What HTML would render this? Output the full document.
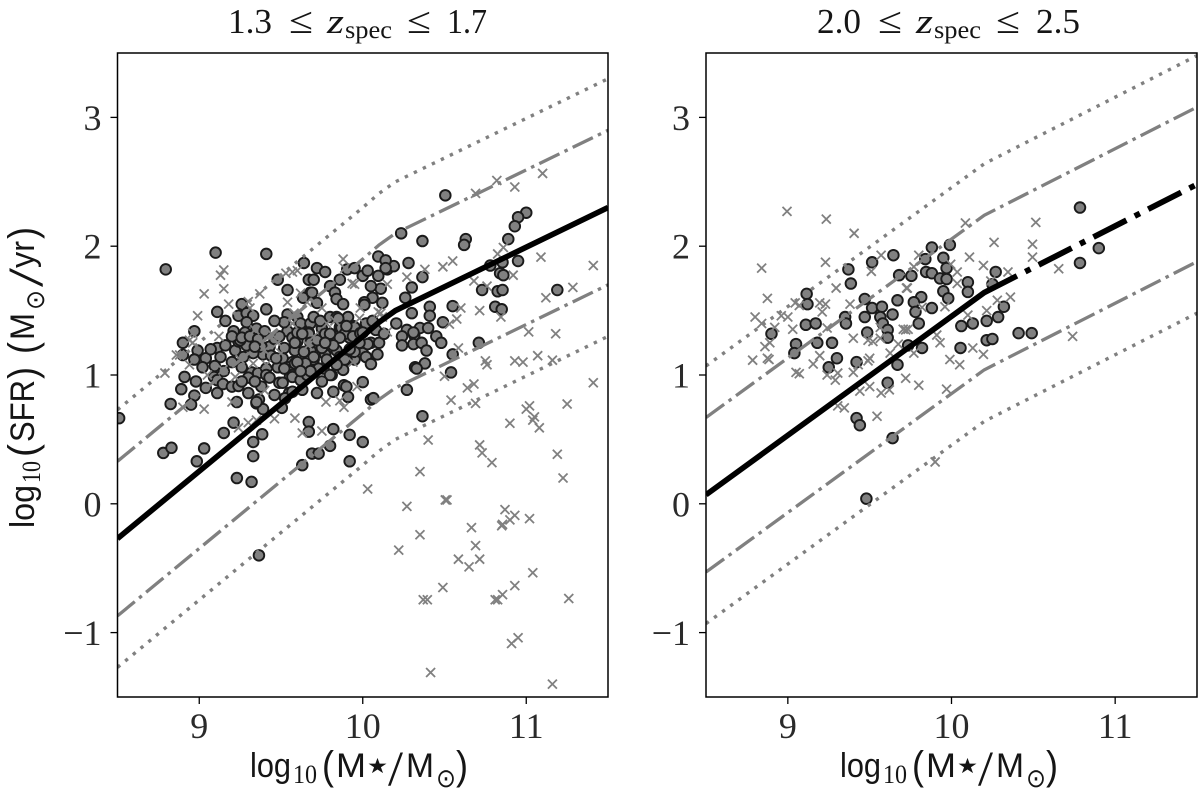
<!DOCTYPE html>
<html lang="en">
<head>
<meta charset="utf-8">
<title>SFR versus stellar mass</title>
<style>
html,body{margin:0;padding:0;background:#fff;}
svg{display:block;}
text{fill:#151515;}
.serif{font-family:"Liberation Serif","DejaVu Serif",serif;}
.sans{font-family:"Liberation Sans","DejaVu Sans",sans-serif;}
.sym{font-family:"DejaVu Sans","Liberation Sans",sans-serif;}
</style>
</head>
<body>
<svg id="chart" xmlns="http://www.w3.org/2000/svg" width="1200" height="797" viewBox="0 0 1200 797">
<defs>
<clipPath id="clip-left"><rect x="117.5" y="53" width="490.5" height="644"/></clipPath>
<clipPath id="clip-right"><rect x="706" y="53" width="491" height="644"/></clipPath>
</defs>
<g id="panel-left"></g>
<g id="panel-right"></g>

<g>
<text class="serif" x="228" y="33" font-size="35" textLength="44" lengthAdjust="spacingAndGlyphs">1.3</text>
<text class="serif" x="289" y="33" font-size="37" textLength="24" lengthAdjust="spacingAndGlyphs">≤</text>
<text class="serif" font-style="italic" x="327" y="33" font-size="35" textLength="17" lengthAdjust="spacingAndGlyphs">z</text>
<text class="serif" x="345" y="38" font-size="25" textLength="47" lengthAdjust="spacingAndGlyphs">spec</text>
<text class="serif" x="407" y="33" font-size="37" textLength="24" lengthAdjust="spacingAndGlyphs">≤</text>
<text class="serif" x="447" y="33" font-size="35" textLength="40" lengthAdjust="spacingAndGlyphs">1.7</text>
</g>
<g>
<text class="serif" x="817" y="33" font-size="35" textLength="44" lengthAdjust="spacingAndGlyphs">2.0</text>
<text class="serif" x="878" y="33" font-size="37" textLength="24" lengthAdjust="spacingAndGlyphs">≤</text>
<text class="serif" font-style="italic" x="916" y="33" font-size="35" textLength="17" lengthAdjust="spacingAndGlyphs">z</text>
<text class="serif" x="934" y="38" font-size="25" textLength="47" lengthAdjust="spacingAndGlyphs">spec</text>
<text class="serif" x="996" y="33" font-size="37" textLength="24" lengthAdjust="spacingAndGlyphs">≤</text>
<text class="serif" x="1036" y="33" font-size="35" textLength="44" lengthAdjust="spacingAndGlyphs">2.5</text>
</g>

<g>
<text class="sans" x="250" y="777" font-size="34" textLength="41" lengthAdjust="spacingAndGlyphs">log</text>
<text class="serif" x="293" y="783" font-size="26" textLength="24" lengthAdjust="spacingAndGlyphs">10</text>
<text class="sans" x="322" y="779" font-size="40" textLength="12" lengthAdjust="spacingAndGlyphs">(</text>
<text class="sans" x="336" y="777" font-size="34" textLength="30" lengthAdjust="spacingAndGlyphs">M</text>
<text class="sym" x="367" y="773" font-size="21" textLength="21" lengthAdjust="spacingAndGlyphs">★</text>
<text class="serif" x="388" y="785" font-size="50" textLength="15" lengthAdjust="spacingAndGlyphs">/</text>
<text class="sans" x="406" y="777" font-size="34" textLength="28" lengthAdjust="spacingAndGlyphs">M</text>
<text class="sym" x="436" y="787" font-size="26" textLength="20" lengthAdjust="spacingAndGlyphs">⊙</text>
<text class="sans" x="456" y="779" font-size="40" textLength="12" lengthAdjust="spacingAndGlyphs">)</text>
</g>
<g>
<text class="sans" x="840" y="777" font-size="34" textLength="41" lengthAdjust="spacingAndGlyphs">log</text>
<text class="serif" x="883" y="783" font-size="26" textLength="24" lengthAdjust="spacingAndGlyphs">10</text>
<text class="sans" x="912" y="779" font-size="40" textLength="12" lengthAdjust="spacingAndGlyphs">(</text>
<text class="sans" x="926" y="777" font-size="34" textLength="30" lengthAdjust="spacingAndGlyphs">M</text>
<text class="sym" x="957" y="773" font-size="21" textLength="21" lengthAdjust="spacingAndGlyphs">★</text>
<text class="serif" x="978" y="785" font-size="50" textLength="15" lengthAdjust="spacingAndGlyphs">/</text>
<text class="sans" x="996" y="777" font-size="34" textLength="28" lengthAdjust="spacingAndGlyphs">M</text>
<text class="sym" x="1026" y="787" font-size="26" textLength="20" lengthAdjust="spacingAndGlyphs">⊙</text>
<text class="sans" x="1046" y="779" font-size="40" textLength="12" lengthAdjust="spacingAndGlyphs">)</text>
</g>
<g transform="translate(34,528) rotate(-90)">
<text class="sans" x="0" y="0" font-size="34" textLength="43" lengthAdjust="spacingAndGlyphs">log</text>
<text class="serif" x="45" y="6" font-size="26" textLength="22" lengthAdjust="spacingAndGlyphs">10</text>
<text class="sans" x="71" y="2" font-size="40" textLength="13" lengthAdjust="spacingAndGlyphs">(</text>
<text class="sans" x="86" y="0" font-size="34" textLength="62" lengthAdjust="spacingAndGlyphs">SFR</text>
<text class="sans" x="149" y="2" font-size="40" textLength="12" lengthAdjust="spacingAndGlyphs">)</text>
<text class="sans" x="174" y="2" font-size="40" textLength="12" lengthAdjust="spacingAndGlyphs">(</text>
<text class="sans" x="188" y="0" font-size="34" textLength="27" lengthAdjust="spacingAndGlyphs">M</text>
<text class="sym" x="218" y="10" font-size="26" textLength="20" lengthAdjust="spacingAndGlyphs">⊙</text>
<text class="serif" x="241" y="8" font-size="50" textLength="19" lengthAdjust="spacingAndGlyphs">/</text>
<text class="sans" x="260" y="0" font-size="34" textLength="27" lengthAdjust="spacingAndGlyphs">yr</text>
<text class="sans" x="289" y="2" font-size="40" textLength="12" lengthAdjust="spacingAndGlyphs">)</text>
</g>
</svg>

<script>
// Axis ranges and ticks
const xDomain = [8.5, 11.5];
const yDomain = [-1.5, 3.5];
const xTicks = [9, 10, 11];
const yTicks = [-1, 0, 1, 2, 3];

// Main-sequence relations: stellar mass knots and SFR at each knot
const leftMainMass = [8.5, 10.0, 10.1, 10.2, 11.5];
const leftMainSfr = [-0.27, 1.30, 1.41, 1.50, 2.30];
const rightMainMass = [8.5, 10.2, 11.5];
const rightMainSfr = [0.07, 1.64, 2.48];
const rightSolidEndMass = 10.4;
const scatterOffsets = [0.6, -0.6];
const outlierOffsets = [1.0, -1.0];

// Spectroscopic galaxies [log mass, log SFR]
const leftCircles = [
[8.51,0.665],[8.795,1.82],[9.10,1.95],[9.41,1.94],[9.64,1.87],[9.48,1.74],[9.72,1.83],[9.77,1.80],[9.67,1.74],[9.70,1.74],
[9.86,1.74],[9.905,1.82],[9.95,1.83],[10.0,1.77],[10.03,1.81],[9.54,1.66],[9.80,1.69],[9.83,1.64],[9.84,1.59],[9.88,1.55],
[9.68,1.64],[9.635,1.60],[9.72,1.56],[9.26,1.55],[9.41,1.51],[9.11,1.49],[9.16,1.42],[9.24,1.46],[9.29,1.48],[9.33,1.46],
[9.29,1.41],[9.54,1.47],[8.97,1.34],[8.90,1.25],[8.99,1.19],[9.11,1.21],[9.16,1.23],[9.22,1.19],[9.21,1.34],[9.28,1.33],
[9.35,1.36],[9.40,1.34],[9.24,1.26],[9.29,1.23],[9.43,1.22],[9.39,1.16],[9.60,1.45],[9.62,1.40],[9.68,1.40],[9.75,1.36],
[9.80,1.45],[9.84,1.45],[9.91,1.45],[9.86,1.37],[9.94,1.38],[10.02,1.40],[9.67,1.33],[9.60,1.26],[9.54,1.34],[9.57,1.29],
[9.77,1.32],[9.92,1.29],[9.80,1.27],[9.68,1.19],[9.75,1.22],[9.77,1.16],[9.84,1.19],[9.95,1.14],[10.02,1.14],[10.05,1.25],
[8.90,1.155],[8.97,1.12],[9.04,1.13],[9.02,1.06],[9.095,1.07],[9.20,1.10],[8.91,0.985],[8.98,0.95],[9.04,0.90],[8.89,0.89],
[9.09,0.985],[9.11,0.96],[9.145,0.93],[9.20,0.91],[9.24,0.915],[9.11,0.86],[9.30,0.86],[9.26,1.06],[9.32,1.02],[9.36,1.015],
[9.30,0.98],[9.41,1.05],[9.41,1.00],[9.48,1.06],[9.555,0.99],[9.38,0.91],[9.49,0.94],[9.46,0.845],[9.55,0.86],[9.23,0.79],
[9.35,0.78],[8.97,0.84],[8.95,0.77],[8.825,0.775],[9.365,0.81],[9.33,1.17],[9.38,1.22],[9.25,1.27],[9.51,1.13],[9.57,1.10],
[9.54,1.06],[9.60,1.27],[9.52,1.21],[9.585,1.19],[9.57,1.00],[8.78,0.395],[8.83,0.435],[9.03,0.43],[8.985,0.33],[9.21,0.63],
[9.15,0.55],[9.385,0.54],[9.33,0.48],[9.33,0.37],[9.23,0.20],[9.32,0.17],[9.67,0.635],[9.67,0.56],[9.82,0.58],[9.92,0.535],
[10.0,0.48],[9.80,0.45],[9.69,0.39],[9.73,0.39],[9.63,0.30],[9.92,0.33],[9.505,0.745],[9.39,0.735],[9.35,0.79],[9.885,0.92],
[9.90,0.91],[9.82,0.87],[9.91,0.83],[9.72,0.86],[10.0,0.945],[10.05,0.81],[9.525,0.82],[9.57,0.87],[9.63,0.885],[9.65,1.015],
[9.57,0.985],[9.62,0.96],[9.70,1.12],[9.76,1.05],[9.81,1.00],[9.88,1.04],[9.95,1.12],[9.90,1.12],[9.86,1.14],[10.0,1.17],
[10.095,1.77],[10.15,1.82],[10.19,1.845],[10.28,1.87],[10.11,1.67],[10.30,1.68],[10.26,1.60],[10.06,1.60],[10.01,1.565],[10.12,1.56],
[10.01,1.545],[9.69,1.64],[9.85,1.44],[9.95,1.37],[9.87,1.365],[9.89,1.32],[9.94,1.30],[9.985,1.325],[9.86,1.29],[9.80,1.32],
[9.60,1.33],[9.67,1.32],[9.585,1.25],[9.68,1.25],[9.75,1.21],[9.82,1.23],[10.03,1.24],[10.10,1.25],[10.09,1.16],[10.02,1.14],
[10.05,1.085],[9.89,1.12],[9.95,1.18],[9.80,1.00],[9.70,1.14],[9.65,1.09],[9.585,1.09],[9.66,1.00],[10.32,1.06],[10.27,1.35],
[10.24,1.30],[10.315,1.31],[10.24,1.23],[10.31,1.24],[10.205,1.40],[10.30,1.48],[10.505,2.395],[10.235,2.10],[10.365,2.04],[10.63,2.055],
[10.62,2.01],[11.0,2.26],[10.95,2.225],[10.93,2.155],[10.89,2.055],[10.095,1.92],[10.14,1.89],[10.14,1.83],[10.365,1.76],[10.05,1.69],
[10.41,1.53],[10.41,1.46],[10.55,1.535],[10.49,1.41],[10.35,1.365],[10.40,1.365],[10.31,1.33],[10.45,1.30],[10.48,1.25],[10.36,1.25],
[10.39,1.19],[10.55,1.16],[10.38,1.09],[10.33,1.05],[10.71,1.25],[10.54,1.02],[10.27,0.885],[10.065,0.82],[10.365,0.68],[10.73,1.66],
[10.81,1.53],[10.85,1.51],[10.825,1.65],[10.855,1.66],[11.19,1.66],[10.84,1.79],[10.86,1.775],[10.95,1.885],[10.855,1.875],[10.78,1.85],
[9.365,-0.40],
[9.20,1.30],[9.26,1.29],[9.31,1.30],[9.36,1.28],[9.46,1.28],[9.44,1.15],[9.49,1.30],[9.52,1.41],[9.46,1.42],[9.34,1.22],
[9.27,1.14],[9.13,1.14],[9.07,1.20],[9.15,1.03],[9.26,0.95],[9.34,0.95],[9.43,0.98],[9.52,1.05],[9.60,1.10],[9.64,1.18],
[9.72,1.27],[9.78,1.12],[9.84,1.08],[9.73,1.05],[9.68,1.03],[9.75,0.95],[9.92,1.20],[9.98,1.25],[10.08,1.35],[10.13,1.32],
[9.70,1.45],[9.74,1.42],[9.90,1.38],[9.77,1.25],[9.63,1.32],[9.51,0.94],[9.62,1.03],[9.47,1.13],[10.06,1.42],[10.0,1.33]
];

// Photometric galaxies [log mass, log SFR]
const leftCrosses = [
[10.40,0.495],[10.715,0.457],[10.73,0.395],[10.79,0.32],[10.35,0.25],[10.03,0.115],[10.27,-0.02],[10.505,0.03],[10.515,0.03],[11.19,0.385],
[11.225,0.20],[11.08,0.59],[10.90,0.625],[11.04,0.65],[10.87,-0.045],[10.93,-0.09],[10.90,-0.125],[10.855,-0.16],[10.85,-0.17],[11.02,-0.115],
[10.665,-0.185],[10.35,-0.24],[10.22,-0.36],[10.69,-0.325],[10.585,-0.43],[10.715,-0.43],[10.65,-0.49],[11.04,-0.535],[10.93,-0.635],[10.49,-0.65],
[10.855,-0.705],[10.825,-0.745],[10.81,-0.745],[10.37,-0.745],[10.395,-0.745],[11.26,-0.735],[10.95,-1.04],[10.91,-1.085],[10.415,-1.31],[11.16,-1.40],
[11.10,2.565],[10.82,2.51],[10.93,2.46],[10.69,2.41],[10.86,1.99],[10.825,1.94],[11.09,1.915],[11.41,1.85],[10.55,1.885],[10.49,1.84],
[10.38,1.82],[10.27,1.76],[10.15,1.705],[10.68,1.73],[10.76,1.69],[10.92,1.775],[11.285,1.68],[11.12,1.60],[10.60,1.52],[10.715,1.50],
[10.575,1.435],[10.53,1.395],[10.845,1.45],[11.015,1.335],[11.18,1.32],[10.585,1.21],[10.75,1.11],[10.76,1.08],[10.93,1.11],[10.98,1.10],
[11.07,1.15],[11.16,1.115],[10.50,0.99],[10.64,0.90],[10.68,0.93],[11.41,0.94],[10.54,0.805],[10.69,0.78],[11.25,0.775],[11.02,0.76],
[11.0,0.735],[11.05,0.675],[10.11,1.48],[9.15,1.815],[9.13,1.775],[9.15,1.67],[9.03,1.63],[9.18,1.55],[8.99,1.46],[9.37,1.63],
[9.53,1.79],[9.60,1.81],[9.88,1.90],[9.95,1.705],[9.62,1.635],[9.54,1.565],[9.75,1.52],[9.30,1.57],[8.96,1.325],[8.96,1.25],
[8.88,1.155],[8.79,1.015],[9.03,0.735],[9.20,0.79],[9.585,0.665],[9.63,0.55],[9.75,0.565],[9.46,0.66],[9.30,0.63],[9.35,0.65],
[9.24,0.59],[9.775,0.79],[9.86,0.80],[9.885,0.75],[9.965,0.91],[8.86,1.155],[8.94,1.27],[8.94,1.08],[9.145,1.04],[9.22,0.985],
[9.34,1.35],[9.45,1.31],[9.40,1.19],[9.48,1.25],[9.33,1.09],[9.41,1.08],[8.90,0.75],[9.57,1.40],[9.31,1.52],[9.935,1.71],
[9.66,1.565],[9.985,1.52],[10.095,1.49],[10.12,1.45],[10.15,1.335],[9.665,1.23],[9.57,1.80],[9.89,1.83],[9.94,1.10],
[9.25,1.12],[9.12,1.30],[9.50,1.17],[9.70,1.30],[9.83,1.42],[9.98,1.44],[9.78,1.40],[9.05,1.00],[9.40,0.88],[9.58,1.48]
];

const rightCircles = [
[9.37,1.82],[9.515,1.875],[9.645,1.93],[9.385,1.71],[9.68,1.775],[9.115,1.63],[9.12,1.55],[9.47,1.59],[9.515,1.52],[9.575,1.53],
[9.67,1.58],[9.11,1.39],[9.17,1.40],[8.90,1.32],[9.47,1.45],[9.565,1.45],[9.64,1.47],[9.35,1.45],[9.355,1.40],[9.485,1.33],
[9.58,1.40],[9.61,1.35],[9.61,1.29],[9.18,1.25],[9.27,1.25],[9.05,1.24],[9.04,1.17],[9.30,1.13],[9.42,1.10],[9.25,1.06],
[9.735,1.23],[9.67,1.08],[9.61,0.94],[9.42,0.665],[9.44,0.61],[9.64,0.51],[9.48,0.04],[10.785,2.30],[10.90,1.985],[10.785,1.87],
[9.88,1.99],[9.99,2.01],[9.84,1.90],[9.95,1.91],[9.97,1.83],[9.845,1.80],[9.88,1.79],[9.93,1.75],[9.97,1.745],[9.755,1.77],
[10.27,1.80],[10.10,1.72],[10.10,1.645],[9.95,1.65],[9.98,1.595],[10.25,1.705],[9.815,1.605],[9.77,1.565],[9.78,1.49],[9.88,1.52],
[9.80,1.40],[10.32,1.53],[10.285,1.45],[10.215,1.42],[10.13,1.40],[10.06,1.38],[10.41,1.325],[10.49,1.325],[10.215,1.27],[10.25,1.28],
[10.055,1.21],[9.82,1.21]
];

const rightCrosses = [
[8.995,2.27],[9.235,2.21],[9.405,2.10],[8.84,1.83],[9.23,1.875],[9.57,1.93],[9.51,1.805],[9.295,1.675],[8.875,1.595],[9.045,1.56],
[9.195,1.56],[9.23,1.55],[9.21,1.49],[9.38,1.55],[8.80,1.45],[8.96,1.46],[9.0,1.45],[8.84,1.40],[9.03,1.355],[8.92,1.37],
[9.24,1.365],[9.40,1.285],[9.49,1.27],[9.565,1.285],[8.89,1.25],[8.86,1.22],[9.625,1.17],[8.785,1.115],[8.875,1.13],[9.195,1.15],
[9.50,1.13],[9.07,1.54],[9.52,1.26],[9.565,1.37],[9.72,1.35],[9.73,1.675],[8.885,1.12],[9.155,1.085],[9.05,1.02],[9.07,1.01],
[9.24,1.0],[9.305,1.015],[9.29,0.96],[9.40,1.02],[9.49,1.11],[9.43,1.08],[9.50,0.91],[9.44,0.875],[9.57,0.86],[9.72,0.975],
[9.305,0.76],[9.345,0.745],[9.545,0.68],[10.085,2.18],[10.515,2.185],[10.26,2.03],[10.495,2.015],[10.495,1.915],[10.11,1.915],[10.195,1.85],
[10.345,1.80],[10.655,1.825],[9.80,1.93],[9.77,1.84],[9.995,1.86],[10.035,1.80],[10.035,1.71],[9.725,1.675],[10.24,1.73],[10.36,1.605],
[10.28,1.58],[10.215,1.50],[9.96,1.53],[10.10,1.465],[9.82,1.525],[9.705,1.355],[9.735,1.355],[9.93,1.25],[9.91,1.31],[9.675,1.24],
[10.13,1.21],[10.195,1.16],[9.77,1.17],[9.99,1.12],[10.74,1.30],[9.90,0.325],[9.97,0.89],[9.80,0.92],[9.62,0.885],[10.05,1.08]
];

const SVG_NS = 'http://www.w3.org/2000/svg';
const top_px = 53, bottom_px = 697;

function makeScale(domain, a, b) {
  return function (v) { return a + (v - domain[0]) / (domain[1] - domain[0]) * (b - a); };
}
function el(tag, parent, attrs) {
  const node = document.createElementNS(SVG_NS, tag);
  for (const k in attrs) node.setAttribute(k, attrs[k]);
  parent.appendChild(node);
  return node;
}
function pathFrom(mass, sfr, offset, sx, sy) {
  return mass.map(function (m, i) {
    return (i ? 'L' : 'M') + sx(m).toFixed(2) + ' ' + sy(sfr[i] + offset).toFixed(2);
  }).join(' ');
}
function sfrAt(mass, sfr, m) {
  for (let i = 1; i < mass.length; i++) {
    if (m <= mass[i]) {
      return sfr[i - 1] + (m - mass[i - 1]) / (mass[i] - mass[i - 1]) * (sfr[i] - sfr[i - 1]);
    }
  }
  return sfr[sfr.length - 1];
}

function drawPanel(opts) {
  const g = document.getElementById(opts.id);
  const sx = makeScale(xDomain, opts.left, opts.right);
  const sy = makeScale(yDomain, bottom_px, top_px);
  const plot = el('g', g, { 'clip-path': 'url(#' + opts.clip + ')' });
  
  

  opts.circles.forEach(function (p) {
    const c = el('circle', plot, { cx: sx(p[0]).toFixed(2), cy: sy(p[1]).toFixed(2), r: 5.3, fill: '#808080', stroke: '#1a1a1a', 'stroke-width': 1.9 });
    
    
  });

  opts.crosses.forEach(function (p) {
    const x = sx(p[0]), y = sy(p[1]), h = 4.5;
    const d = 'M' + (x - h).toFixed(2) + ' ' + (y - h).toFixed(2) + 'L' + (x + h).toFixed(2) + ' ' + (y + h).toFixed(2) +
              'M' + (x - h).toFixed(2) + ' ' + (y + h).toFixed(2) + 'L' + (x + h).toFixed(2) + ' ' + (y - h).toFixed(2);
    const m = el('path', plot, { d: d, stroke: '#808080', 'stroke-width': 1.8, fill: 'none' });
    
    
  });

  scatterOffsets.forEach(function (off) {
    const l = el('path', plot, { d: pathFrom(opts.mass, opts.sfr, off, sx, sy), fill: 'none', stroke: '#808080', 'stroke-width': 3.3, 'stroke-dasharray': '22.4 5.6 3.5 5.6' });
    
    
  });
  outlierOffsets.forEach(function (off) {
    const l = el('path', plot, { d: pathFrom(opts.mass, opts.sfr, off, sx, sy), fill: 'none', stroke: '#808080', 'stroke-width': 3.4, 'stroke-dasharray': '3.4 6.6' });
    
    
  });

  if (opts.solidEnd === null) {
    const s = el('path', plot, { d: pathFrom(opts.mass, opts.sfr, 0, sx, sy), fill: 'none', stroke: '#000', 'stroke-width': 5.6 });
    
    
  } else {
    const endSfr = sfrAt(opts.mass, opts.sfr, opts.solidEnd);
    const soMass = opts.mass.filter(function (m) { return m < opts.solidEnd; }).concat([opts.solidEnd]);
    const soSfr = opts.sfr.slice(0, soMass.length - 1).concat([endSfr]);
    const exMass = [opts.solidEnd].concat(opts.mass.filter(function (m) { return m > opts.solidEnd; }));
    const exSfr = [endSfr].concat(opts.sfr.slice(opts.sfr.length - exMass.length + 1));
    const s = el('path', plot, { d: pathFrom(soMass, soSfr, 0, sx, sy), fill: 'none', stroke: '#000', 'stroke-width': 5.6 });
    
    
    const e = el('path', plot, { d: pathFrom(exMass, exSfr, 0, sx, sy), fill: 'none', stroke: '#000', 'stroke-width': 5.8, 'stroke-dasharray': '37 9.3 5.8 9.3', 'stroke-dashoffset': 37 });
    
    
  }

  const frame = el('rect', g, { x: opts.left, y: top_px, width: opts.right - opts.left, height: bottom_px - top_px, fill: 'none', stroke: '#000', 'stroke-width': 1.5 });
  
  

  xTicks.forEach(function (t) {
    const x = sx(t);
    const tick = el('line', g, { x1: x, x2: x, y1: bottom_px, y2: bottom_px + 7, stroke: '#000', 'stroke-width': 1.3 });
    
    
    const label = el('text', g, { x: x, y: 738, 'text-anchor': 'middle', 'font-size': 36, class: 'serif', style: 'fill:#2a2a2a' });
    
    
    label.textContent = String(t);
  });
  yTicks.forEach(function (t) {
    const y = sy(t);
    const tick = el('line', g, { x1: opts.left - 7, x2: opts.left, y1: y, y2: y, stroke: '#000', 'stroke-width': 1.3 });
    
    
    const label = el('text', g, { x: opts.left - 16, y: y + 12.5, 'text-anchor': 'end', 'font-size': 36, class: 'serif', style: 'fill:#2a2a2a' });
    
    
    label.textContent = (t < 0 ? '\u2212' + Math.abs(t) : String(t));
  });
}

drawPanel({ id: 'panel-left', clip: 'clip-left', left: 117.5, right: 608, mass: leftMainMass, sfr: leftMainSfr, solidEnd: null, circles: leftCircles, crosses: leftCrosses });
drawPanel({ id: 'panel-right', clip: 'clip-right', left: 706, right: 1197, mass: rightMainMass, sfr: rightMainSfr, solidEnd: rightSolidEndMass, circles: rightCircles, crosses: rightCrosses });
</script>
</body>
</html>
